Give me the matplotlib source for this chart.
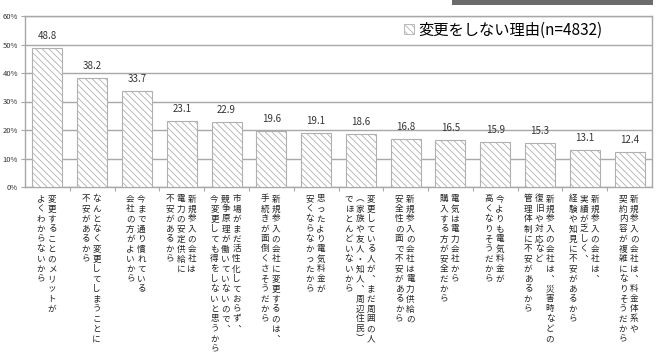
import matplotlib
matplotlib.use("Agg")
import matplotlib.pyplot as plt
from matplotlib.patches import Patch, Rectangle

plt.rcParams['font.family'] = ['Noto Sans CJK JP', 'DejaVu Sans']
plt.rcParams['hatch.color'] = '#9a9a9a'
plt.rcParams['hatch.linewidth'] = 0.6

# data
values = [48.8, 38.2, 33.7, 23.1, 22.9, 19.6, 19.1, 18.6, 16.8, 16.5, 15.9, 15.3, 13.1, 12.4]
# each label: columns of vertical text, first column is the rightmost
labels = [
    ["変更することのメリットが", "よくわからないから"],
    ["なんとなく変更してしまうことに", "不安があるから"],
    ["今まで通り慣れている", "会社の方がよいから"],
    ["新規参入の会社は", "電力の安定供給に", "不安があるから"],
    ["市場がまだ活性化しておらず︑", "競争原理が働いていないので︑", "今変更しても得をしないと思うから"],
    ["新規参入の会社に変更するのは︑", "手続きが面倒くさそうだから"],
    ["思ったより電気料金が", "安くならなかったから"],
    ["変更している人が︑まだ周囲の人", "︵家族や友人・知人︑周辺住民︶", "でほとんどいないから"],
    ["新規参入の会社は電力供給の", "安全性の面で不安があるから"],
    ["電気は電力会社から", "購入する方が安全だから"],
    ["今よりも電気料金が", "高くなりそうだから"],
    ["新規参入の会社は︑災害時などの", "復旧や対応など", "管理体制に不安があるから"],
    ["新規参入の会社は︑", "実績が乏しく︑", "経験や知見に不安があるから"],
    ["新規参入の会社は︑料金体系や", "契約内容が複雑になりそうだから"],
]
yticks = [0, 10, 20, 30, 40, 50, 60]
legend_label = "変更をしない理由(n=4832)"

fig = plt.figure(figsize=(6.57, 3.55), dpi=100)
ax = fig.add_axes([25/657, 1-187/355, 627/657, 171/355])

grid_c = '#a8a8a8'
x = list(range(len(values)))
ax.bar(x, values, width=0.67, color='white', edgecolor='#b0b0b0',
       hatch='\\\\\\\\\\', linewidth=0.8, zorder=3)
for xi, v in zip(x, values):
    ax.annotate(f"{v:.1f}", xy=(xi, v), xytext=(0, 5), textcoords='offset points',
                ha='center', va='bottom', fontsize=7, color='#333333')

ax.set_xlim(-0.5, len(values) - 0.5)
ax.set_ylim(0, 60)
ax.set_yticks(yticks)
ax.set_yticklabels([f"{t}%" for t in yticks], fontsize=5.5, color='#333333')
ax.yaxis.grid(True, color=grid_c, linewidth=1.0, zorder=0)
ax.set_xticks([i + 0.5 for i in x[:-1]])
ax.set_xticklabels([])
ax.tick_params(axis='x', length=3, color=grid_c, width=0.8)
ax.tick_params(axis='y', length=3, color=grid_c, width=0.8, pad=2)
for s in ax.spines.values():
    s.set_color(grid_c)
    s.set_linewidth(1.0)

# vertical Japanese category labels, one character at a time
px = 0.72  # points per pixel at 100 dpi
for xi, cols in zip(x, labels):
    n = len(cols)
    for k, col in enumerate(cols):
        dx = ((n - 1) / 2 - k) * 11 - 1
        for j, ch in enumerate(col):
            ax.annotate(ch, xy=(xi, 0), xycoords=('data', 'axes fraction'),
                        xytext=(dx * px, -(12 + j * 10) * px), textcoords='offset points',
                        ha='center', va='center', fontsize=6.2, color='#222222',
                        annotation_clip=False)

handle = Patch(facecolor='white', edgecolor='#b0b0b0', hatch='\\\\\\\\\\', linewidth=0.6)
ax.legend([handle], [legend_label], loc='center left', bbox_to_anchor=(0.605, 0.918),
          frameon=False, fontsize=11, handlelength=0.6, handleheight=0.6,
          handletextpad=0.3, borderpad=0, borderaxespad=0)

# dark banner strip at the top right
fig.patches.append(Rectangle((452/657, 1-5/355), 201/657, 5/355, transform=fig.transFigure,
                             facecolor='#6b6b6b', edgecolor='none'))

fig.savefig('out.png', dpi=100)
